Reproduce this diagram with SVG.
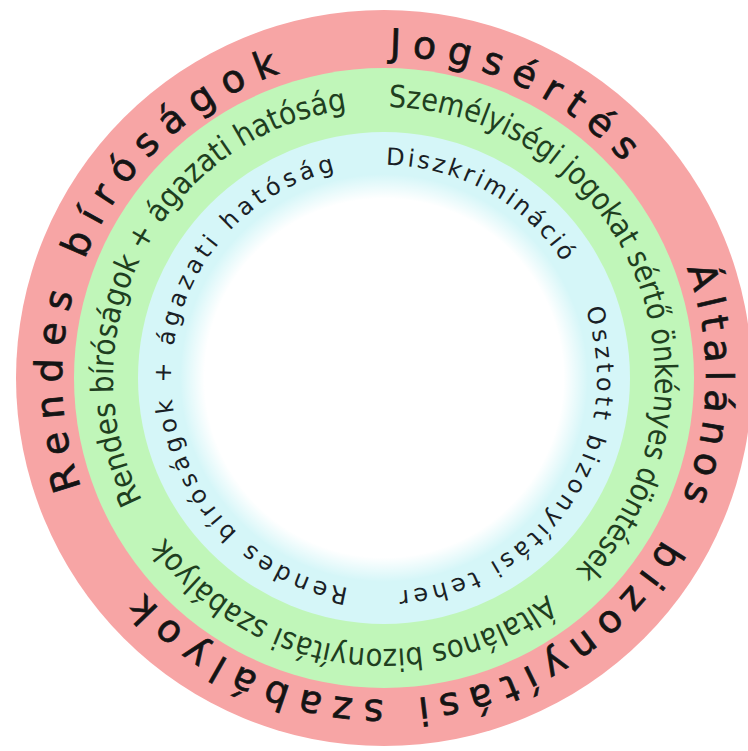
<svg xmlns="http://www.w3.org/2000/svg" width="748" height="751" viewBox="0 0 748 751">
  <defs>
    <path id="pRed" d="M 384 56 A 322 322 0 1 1 384 700 A 322 322 0 1 1 384 56"/>
    <path id="pGreen" d="M 384 107 A 271 271 0 1 1 384 649 A 271 271 0 1 1 384 107"/>
    <path id="pCyan" d="M 384 165 A 213 213 0 1 1 384 591 A 213 213 0 1 1 384 165"/>
    <radialGradient id="whiteFade" cx="0.5" cy="0.5" r="0.5">
      <stop offset="0.88" stop-color="#ffffff" stop-opacity="1"/>
      <stop offset="1" stop-color="#ffffff" stop-opacity="0"/>
    </radialGradient>
  </defs>
  <style>
    .red { font-family: "DejaVu Sans", "Liberation Sans", sans-serif; font-size: 38px; fill: #141414; stroke: #141414; stroke-width: 0.7px; }
    .green { font-family: "DejaVu Sans", "Liberation Sans", sans-serif; font-size: 31px; fill: #1f3f1f; }
    .cyan { font-family: "DejaVu Sans", "Liberation Sans", sans-serif; font-size: 24px; fill: #1a1f26; }
  </style>
  <rect width="748" height="751" fill="#ffffff"/>
  <g id="rings">
    <circle cx="384" cy="378" r="368" fill="#f7a5a5"/>
    <circle cx="384" cy="378" r="310" fill="#c0f6b9"/>
    <circle cx="384" cy="378" r="246" fill="#d5f6f8"/>
    <circle cx="384" cy="378" r="204" fill="url(#whiteFade)"/>
  </g>
  <g id="outer-ring-text">
    <text class="red"><textPath href="#pRed" startOffset="5.6" textLength="264" lengthAdjust="spacing">Jogsértés</textPath></text>
    <text class="red"><textPath href="#pRed" startOffset="393.4" textLength="236" lengthAdjust="spacing">Általános</textPath></text>
    <text class="red"><textPath href="#pRed" startOffset="674.4" textLength="303.5" lengthAdjust="spacing">bizonyítási</textPath></text>
    <text class="red"><textPath href="#pRed" startOffset="1011.6" textLength="269.8" lengthAdjust="spacing">szabályok</textPath></text>
    <text class="red"><textPath href="#pRed" startOffset="1405" textLength="511.4" lengthAdjust="spacing">Rendes bíróságok</textPath></text>
  </g>
  <g id="middle-ring-text">
    <text class="green"><textPath href="#pGreen" startOffset="4.7" textLength="634" lengthAdjust="spacingAndGlyphs">Személyiségi jogokat sértő önkényes döntések</textPath></text>
    <text class="green"><textPath href="#pGreen" startOffset="676.4" textLength="430" lengthAdjust="spacingAndGlyphs">Általános bizonyítási szabályok</textPath></text>
    <text class="green"><textPath href="#pGreen" startOffset="1149.4" textLength="515.6" lengthAdjust="spacingAndGlyphs">Rendes bíróságok + ágazati hatóság</textPath></text>
  </g>
  <g id="inner-ring-text">
    <text class="cyan"><textPath href="#pCyan" startOffset="1.9" textLength="210" lengthAdjust="spacing">Diszkrimináció</textPath></text>
    <text class="cyan"><textPath href="#pCyan" startOffset="264" textLength="390.3" lengthAdjust="spacing">Osztott bizonyítási teher</textPath></text>
    <text class="cyan"><textPath href="#pCyan" startOffset="704.5" textLength="583.7" lengthAdjust="spacing">Rendes bíróságok + ágazati hatóság</textPath></text>
  </g>
</svg>
